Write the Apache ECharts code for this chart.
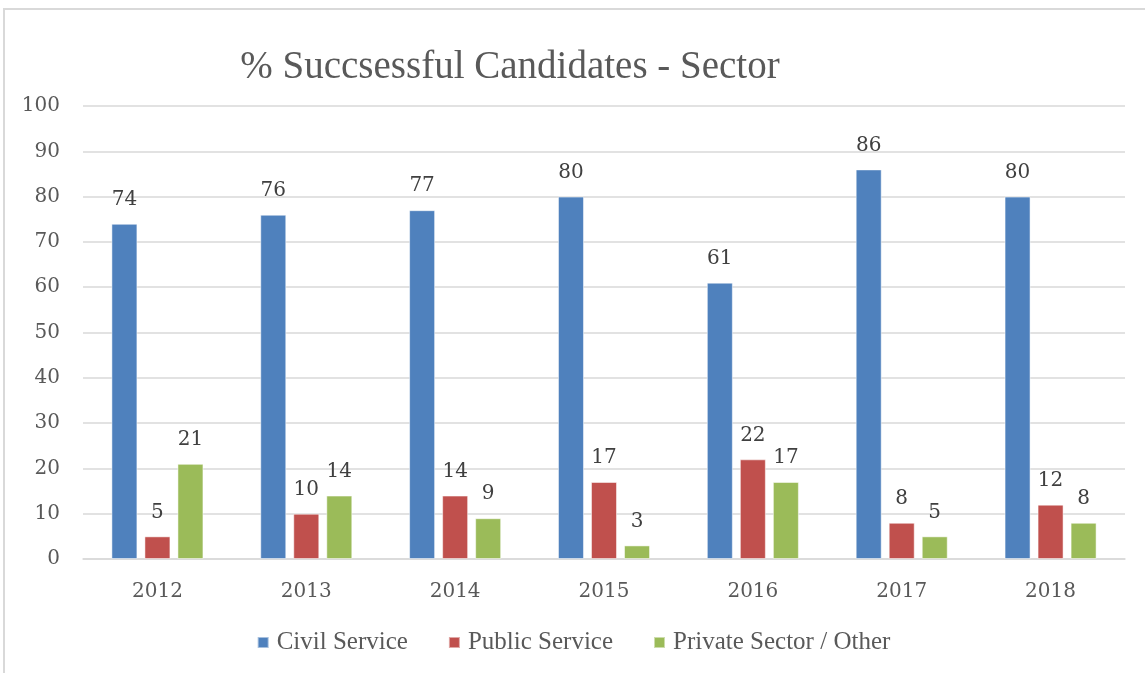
<!DOCTYPE html>
<html>
<head>
<meta charset="utf-8">
<script src="https://cdn.jsdelivr.net/npm/echarts@6/dist/echarts.min.js"></script>
<style>
  html, body { margin: 0; padding: 0; background: #fff; }
  #frame { position: absolute; left: 3px; top: 8px; width: 1142px; height: 670px; border: 2px solid #d9d9d9; border-bottom: none; border-right: none; box-sizing: border-box; }
  #chart { position: absolute; left: 0; top: 0; width: 1147px; height: 673px; }
</style>
</head>
<body>
<div id="frame"></div>
<div id="chart"></div>
<script>
const years = ['2012', '2013', '2014', '2015', '2016', '2017', '2018'];
const civilService = [74, 76, 77, 80, 61, 86, 80];
const publicService = [5, 10, 14, 17, 22, 8, 12];
const privateSector = [21, 14, 9, 3, 17, 5, 8];
const seriesNames = ['Civil Service', 'Public Service', 'Private Sector / Other'];
const seriesColors = ['#4F81BD', '#C0504D', '#9BBB59'];

const serif = 'DejaVu Serif';
const textColor = '#595959';

const chart = echarts.init(document.getElementById('chart'), null, { renderer: 'canvas' });

function barSeries(name, data, color) {
  return {
    name: name,
    type: 'bar',
    data: data,
    barWidth: 26,
    barGap: '27%',
    itemStyle: { color: color, borderColor: 'rgba(255,255,255,0.5)', borderWidth: 1 },
    label: {
      show: true,
      position: 'top',
      distance: 14,
      fontFamily: serif,
      fontSize: 20,
      color: '#404040'
    }
  };
}

chart.setOption({
  animation: false,
  title: {
    text: '% Succsessful Candidates - Sector',
    left: 505,
    textAlign: 'center',
    top: 43,
    textStyle: { fontFamily: 'Liberation Serif', fontSize: 39, fontWeight: 'normal', color: textColor }
  },
  legend: {
    bottom: 13,
    left: 'center',
    itemWidth: 11,
    itemHeight: 11,
    itemGap: 40,
    icon: 'rect',
    textStyle: { fontFamily: 'Liberation Serif', fontSize: 25, color: textColor, padding: [0, 0, 0, 3] },
    data: seriesNames
  },
  grid: { left: 83, right: 22, top: 106, bottom: 114, containLabel: false },
  xAxis: {
    type: 'category',
    data: years,
    axisLine: { lineStyle: { color: '#d9d9d9', width: 1.5 } },
    axisTick: { show: false },
    axisLabel: { fontFamily: serif, fontSize: 20, color: textColor, margin: 23 }
  },
  yAxis: {
    type: 'value',
    min: 0,
    max: 100,
    interval: 10,
    axisLine: { show: false },
    axisTick: { show: false },
    axisLabel: { fontFamily: serif, fontSize: 20, color: textColor, margin: 23 },
    splitLine: { lineStyle: { color: '#d9d9d9', width: 1.5 } }
  },
  series: [
    barSeries(seriesNames[0], civilService, seriesColors[0]),
    barSeries(seriesNames[1], publicService, seriesColors[1]),
    barSeries(seriesNames[2], privateSector, seriesColors[2])
  ]
});
</script>
</body>
</html>
